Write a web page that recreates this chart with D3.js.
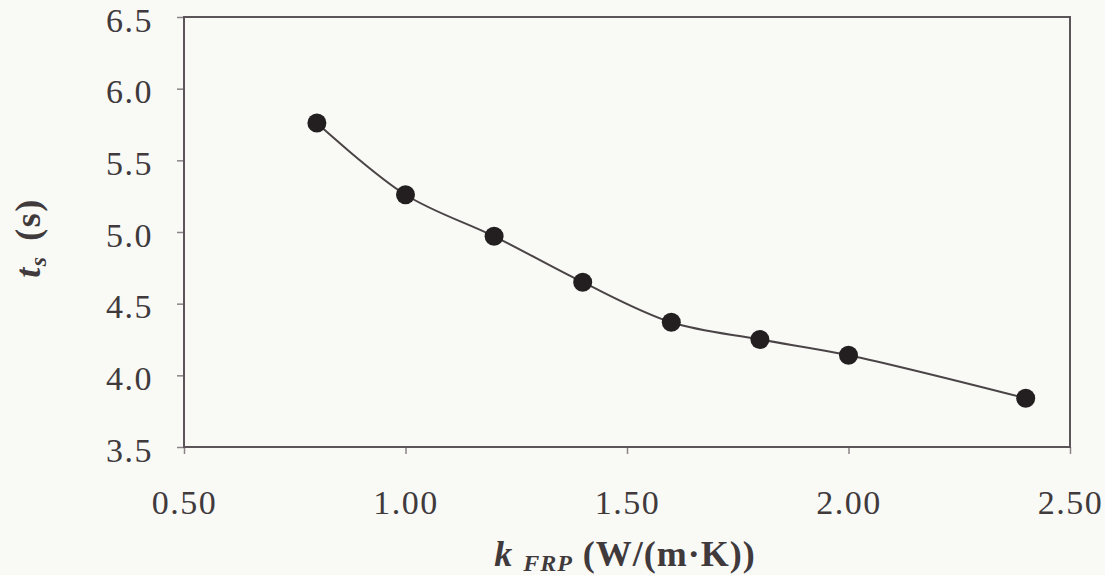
<!DOCTYPE html>
<html>
<head>
<meta charset="utf-8">
<script src="https://cdn.jsdelivr.net/npm/d3@7"></script>
<style>
  html, body { margin: 0; padding: 0; background: #f9f9f6; }
  svg { display: block; }
  text { font-family: "Liberation Serif", "Times New Roman", serif; fill: #403a3c; }
</style>
</head>
<body>
<svg id="chart" width="1105" height="575"></svg>
<script>
// Thermal conductivity of the FRP layer, W/(m·K)
const kValues = [0.8, 1.0, 1.2, 1.4, 1.6, 1.8, 2.0, 2.4];
// Time t_s in seconds for each conductivity
const tValues = [5.76, 5.26, 4.97, 4.65, 4.37, 4.25, 4.14, 3.84];

const xTicks = [0.5, 1.0, 1.5, 2.0, 2.5];
const yTicks = [3.5, 4.0, 4.5, 5.0, 5.5, 6.0, 6.5];

const svg = d3.select("#chart");
const plot = { left: 184, right: 1070, top: 17, bottom: 447 };

const x = d3.scaleLinear().domain([0.5, 2.5]).range([plot.left, plot.right]);
const y = d3.scaleLinear().domain([3.5, 6.5]).range([plot.bottom, plot.top]);

const frameColor = "#5b5458";

// Y axis with outward ticks
const yAxis = svg.append("g")
  .attr("transform", `translate(${plot.left},0)`)
  .call(d3.axisLeft(y).tickValues(yTicks).tickFormat(d3.format(".1f")).tickSize(7).tickPadding(24));
yAxis.select(".domain").remove();
yAxis.selectAll(".tick line").attr("stroke", "#8a8487").attr("stroke-width", 1.5);
yAxis.selectAll(".tick text")
  .attr("font-size", 34)
  .attr("letter-spacing", 1.5)
  .attr("dy", "0.42em");

// X axis with outward ticks
const xAxis = svg.append("g")
  .attr("transform", `translate(0,${plot.bottom})`)
  .call(d3.axisBottom(x).tickValues(xTicks).tickFormat(d3.format(".2f")).tickSize(7).tickPadding(60));
xAxis.select(".domain").remove();
xAxis.selectAll(".tick line").attr("stroke", "#8a8487").attr("stroke-width", 1.5);
xAxis.selectAll(".tick text")
  .attr("font-size", 34)
  .attr("letter-spacing", 1.5)
  .attr("dy", "0");

// Plot frame
svg.append("rect")
  .attr("x", plot.left).attr("y", plot.top)
  .attr("width", plot.right - plot.left).attr("height", plot.bottom - plot.top)
  .attr("fill", "none").attr("stroke", frameColor).attr("stroke-width", 2);

const pts = kValues.map((k, i) => [k, tValues[i]]);

// Smoothed connecting line
svg.append("path")
  .datum(pts)
  .attr("fill", "none")
  .attr("stroke", "#4a4446")
  .attr("stroke-width", 2)
  .attr("d", d3.line().x(d => x(d[0])).y(d => y(d[1])).curve(d3.curveCatmullRom.alpha(0.5)));

// Data markers
svg.append("g").selectAll("circle")
  .data(pts)
  .join("circle")
  .attr("cx", d => x(d[0]))
  .attr("cy", d => y(d[1]))
  .attr("r", 9.5)
  .attr("fill", "#231f20");

// X axis title: k_FRP (W/(m·K))
const xt = svg.append("text")
  .attr("x", (plot.left + plot.right) / 2 - 2)
  .attr("y", 566)
  .attr("text-anchor", "middle")
  .attr("font-size", 36)
  .attr("letter-spacing", 1)
  .attr("font-weight", "bold");
xt.append("tspan").attr("font-style", "italic").text("k");
xt.append("tspan").attr("font-style", "italic").attr("font-size", 24).attr("dx", 10).attr("dy", 5).text("FRP");
xt.append("tspan").attr("dy", -5).text(" (W/(m·K))");

// Y axis title: t_s (s)
const yt = svg.append("text")
  .attr("transform", `translate(40,${(plot.top + plot.bottom) / 2 + 6}) rotate(-90)`)
  .attr("text-anchor", "middle")
  .attr("font-size", 36)
  .attr("letter-spacing", 1.5)
  .attr("font-weight", "bold");
yt.append("tspan").attr("font-style", "italic").text("t");
yt.append("tspan").attr("font-style", "italic").attr("font-size", 24).attr("dy", 6).text("s");
yt.append("tspan").attr("dy", -6).attr("dx", 4).text(" (s)");
</script>
</body>
</html>
